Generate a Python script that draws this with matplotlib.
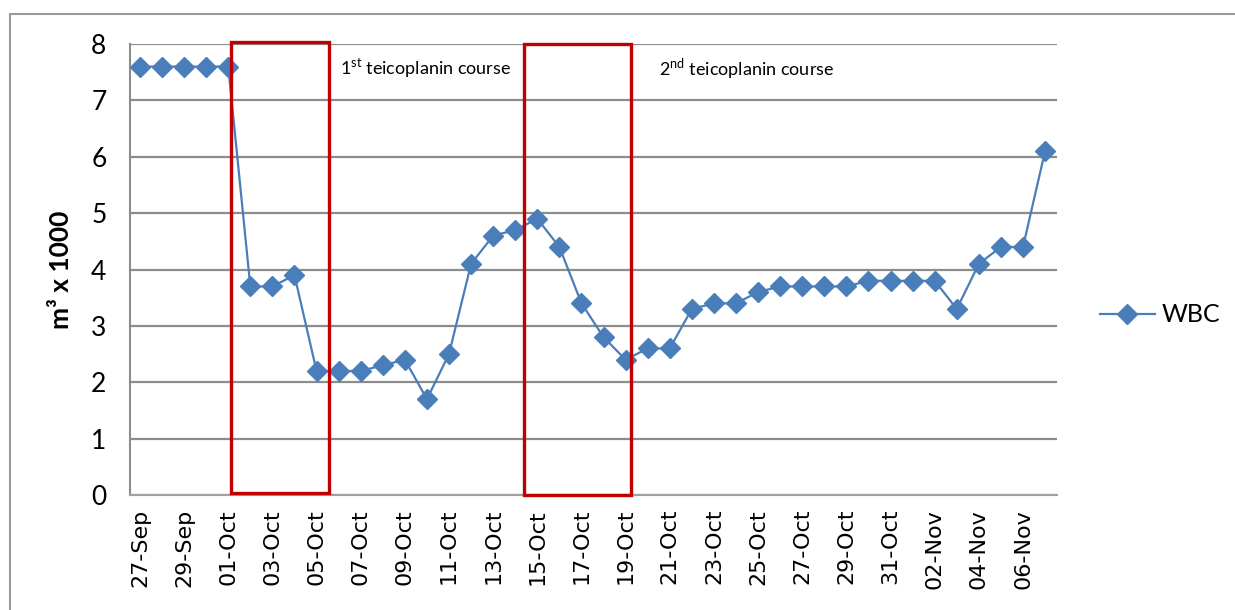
import matplotlib
matplotlib.use("Agg")
import matplotlib.pyplot as plt
import matplotlib.dates as mdates
from matplotlib.patches import Rectangle
import pandas as pd

plt.rcParams['mathtext.fontset'] = 'custom'
plt.rcParams['mathtext.rm'] = 'Lato'

# daily WBC counts, 27-Sep to 07-Nov
dates = pd.date_range("2013-09-27", "2013-11-07", freq="D")
wbc = [7.6, 7.6, 7.6, 7.6, 7.6,
       3.7, 3.7, 3.9, 2.2, 2.2, 2.2, 2.3, 2.4, 1.7, 2.5, 4.1, 4.6, 4.7,
       4.9, 4.4, 3.4, 2.8, 2.4, 2.6, 2.6, 3.3, 3.4, 3.4, 3.6, 3.7, 3.7,
       3.7, 3.7, 3.8, 3.8, 3.8, 3.8, 3.3, 4.1, 4.4, 4.4, 6.1]
courses = ["1$^{\\rm st}$ teicoplanin course", "2$^{\\rm nd}$ teicoplanin course"]

fig = plt.figure(figsize=(12.35, 6.1), dpi=100)
ax = fig.add_axes([130 / 1235, 1 - 495 / 610, 927 / 1235, 451 / 610])

# outer chart frame
fig.add_artist(Rectangle((10 / 1235, -0.05), 1.1, 1 - 14 / 610 + 0.05,
                         transform=fig.transFigure, fill=False,
                         edgecolor="#9a9a9a", linewidth=1.5))

x0 = mdates.date2num(dates[0])
ax.plot(dates, wbc, color="#4a7ebb", linewidth=1.6, marker="D",
        markersize=10, label="WBC", zorder=3)

ax.set_xlim(x0 - 0.45, x0 + 41.54)
ax.set_ylim(0, 8)
ax.set_yticks(range(0, 9))
ax.yaxis.grid(True, color="#8c8c8c", linewidth=1.6)
ax.set_axisbelow(True)
for s in ["top", "right"]:
    ax.spines[s].set_visible(False)
ax.spines["left"].set_color("#8c8c8c")
ax.spines["bottom"].set_color("#a0a0a0")
ax.spines["left"].set_linewidth(1.5)
ax.spines["bottom"].set_linewidth(1.5)

ax.set_xticks(dates[::2])
ax.xaxis.set_major_formatter(mdates.DateFormatter("%d-%b"))
ax.tick_params(axis="x", length=0, pad=10, labelsize=16, rotation=90)
ax.tick_params(axis="y", length=0, pad=17, labelsize=19)
for lab in ax.get_yticklabels():
    lab.set_fontfamily("Lato")

ax.set_ylabel("m³ x 1000", fontsize=19, fontweight="bold", family="Lato",
              labelpad=13)

# treatment course boxes
boxes = [(4.12, 8.56, 0.04, 8.04), (17.4, 22.25, 0.0, 8.0)]
for (a, b, lo, hi) in boxes:
    ax.add_patch(Rectangle((x0 + a, lo), b - a, hi - lo, fill=False,
                           edgecolor="#c00000", linewidth=2.4,
                           clip_on=False, zorder=4))
ax.text(x0 + 9.06, 7.57, courses[0], fontsize=13, family="Lato",
        va="center", ha="left")
ax.text(x0 + 23.5, 7.57, courses[1], fontsize=13, family="Lato",
        va="center", ha="left")

ax.legend(loc="center left", bbox_to_anchor=(1077 / 1235, 1 - 315 / 610),
          bbox_transform=fig.transFigure, frameon=False,
          prop={"family": "Lato", "size": 18}, handlelength=2.2,
          handletextpad=0.3)

fig.savefig("out.png", dpi=100)
